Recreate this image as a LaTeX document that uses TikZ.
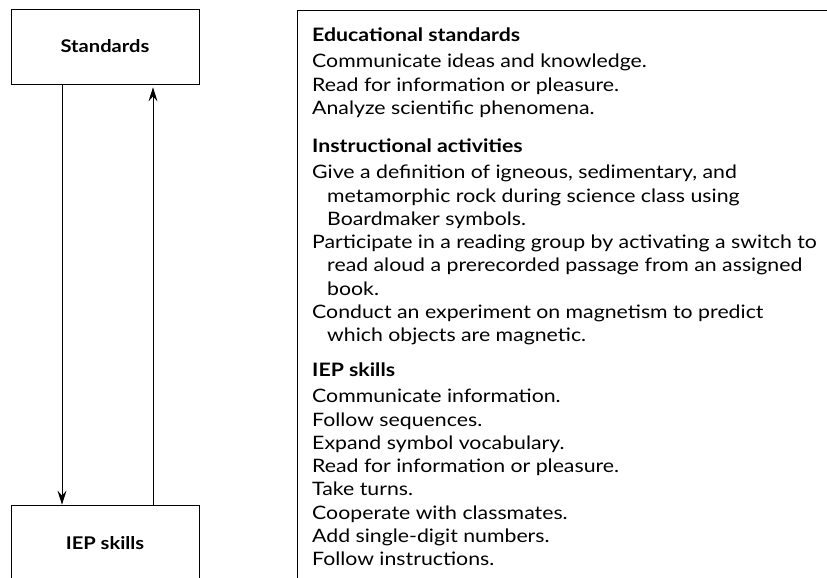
\documentclass[tikz,border=0pt]{standalone}
\usepackage{fontspec}
\setmainfont{Lato}[FakeStretch=1.15]
\usetikzlibrary{arrows.meta,positioning}

\newcommand{\wrapind}{\hspace*{15pt}}

\tikzset{
  box/.style={draw, line width=0.8pt, minimum width=188pt,
    font=\fontsize{17.5}{20}\selectfont\bfseries},
  flow/.style={line width=0.8pt, -{Stealth[length=14pt,width=9pt,inset=5pt]}},
  section/.style={anchor=north west, inner sep=0pt, align=left,
    font=\fontsize{18.5}{23.3}\selectfont},
}

\begin{document}
\begin{tikzpicture}[x=1pt,y=-1pt]
\useasboundingbox (0,0) rectangle (827,578);

% left column: two boxes and the two arrows between them
\node[box, minimum height=75pt] (std) at (105,46.5) {Standards};
\node[box, minimum height=76pt] (iep) at (105,543) {IEP skills};
\draw[flow] ([xshift=-43pt]std.south) -- ([xshift=-43pt]iep.north);
\draw[flow, shorten >=3pt] ([xshift=48pt]iep.north) -- ([xshift=48pt]std.south);

% right panel (runs off the right and bottom edges)
\node[draw, line width=0.8pt, anchor=north west, inner sep=0pt,
  minimum width=560pt, minimum height=600pt] (panel) at (297,10) {};

\node[section] (edu) at (312,27.5) {\textbf{Educational standards}\\[3pt]
  Communicate ideas and knowledge.\\
  Read for information or pleasure.\\
  Analyze scientific phenomena.};

\node[section] (act) at (312,138.5) {\textbf{Instructional activities}\\[3pt]
  Give a definition of igneous, sedimentary, and\\
  \wrapind metamorphic rock during science class using\\
  \wrapind Boardmaker symbols.\\
  Participate in a reading group by activating a switch to\\
  \wrapind read aloud a prerecorded passage from an assigned\\
  \wrapind book.\\
  Conduct an experiment on magnetism to predict\\
  \wrapind which objects are magnetic.};

\node[section] (skills) at (312,362.5) {\textbf{IEP skills}\\[3pt]
  Communicate information.\\
  Follow sequences.\\
  Expand symbol vocabulary.\\
  Read for information or pleasure.\\
  Take turns.\\
  Cooperate with classmates.\\
  Add single-digit numbers.\\
  Follow instructions.};
\end{tikzpicture}
\end{document}
